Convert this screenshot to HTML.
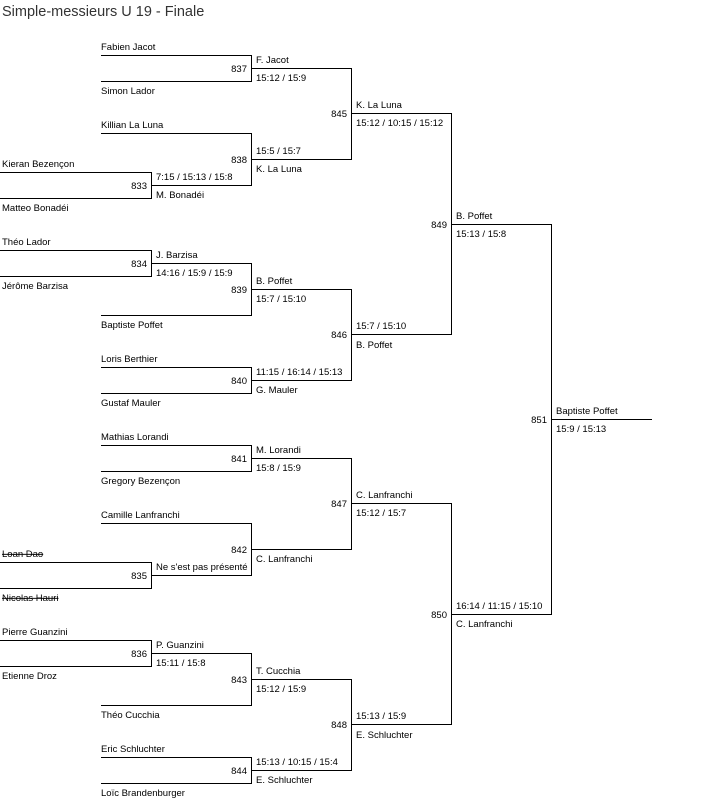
<!DOCTYPE html>
<html><head><meta charset="utf-8"><style>
html,body{margin:0;padding:0;background:#fff;}
svg{display:block}
text{font-family:"Liberation Sans",sans-serif;font-size:9.5px;fill:#000}
.n{text-anchor:end}
.s{text-decoration:line-through}
</style></head><body>
<svg width="702" height="804" xmlns="http://www.w3.org/2000/svg">
<text x="2" y="16" style="font-size:14.5px;fill:#333">Simple-messieurs U 19 - Finale</text>
<g fill="none" stroke="#000" stroke-width="1" shape-rendering="crispEdges">
<path d="M0 172.5H151.5V198.5H0"/>
<path d="M0 250.5H151.5V276.5H0"/>
<path d="M0 562.5H151.5V588.5H0"/>
<path d="M0 640.5H151.5V666.5H0"/>
<path d="M101 55.5H251.5V81.5H101"/>
<path d="M101 133.5H251.5V185.5H151"/>
<path d="M151 263.5H251.5V315.5H101"/>
<path d="M101 367.5H251.5V393.5H101"/>
<path d="M101 445.5H251.5V471.5H101"/>
<path d="M101 523.5H251.5V575.5H151"/>
<path d="M151 653.5H251.5V705.5H101"/>
<path d="M101 757.5H251.5V783.5H101"/>
<path d="M251 68.5H351.5V159.5H251"/>
<path d="M251 289.5H351.5V380.5H251"/>
<path d="M251 458.5H351.5V549.5H251"/>
<path d="M251 679.5H351.5V770.5H251"/>
<path d="M351 113.5H451.5V334.5H351"/>
<path d="M351 503.5H451.5V724.5H351"/>
<path d="M451 224.5H551.5V614.5H451"/>
<path d="M551 419.5H652"/>
</g>
<text x="2" y="167">Kieran Bezençon</text>
<text x="2" y="211">Matteo Bonadéi</text>
<text x="2" y="245">Théo Lador</text>
<text x="2" y="289">Jérôme Barzisa</text>
<text x="2" y="557" class="s">Loan Dao</text>
<text x="2" y="601" class="s">Nicolas Hauri</text>
<text x="2" y="635">Pierre Guanzini</text>
<text x="2" y="679">Etienne Droz</text>
<text x="101" y="50">Fabien Jacot</text>
<text x="101" y="94">Simon Lador</text>
<text x="101" y="128">Killian La Luna</text>
<text x="101" y="328">Baptiste Poffet</text>
<text x="101" y="362">Loris Berthier</text>
<text x="101" y="406">Gustaf Mauler</text>
<text x="101" y="440">Mathias Lorandi</text>
<text x="101" y="484">Gregory Bezençon</text>
<text x="101" y="518">Camille Lanfranchi</text>
<text x="101" y="718">Théo Cucchia</text>
<text x="101" y="752">Eric Schluchter</text>
<text x="101" y="796">Loïc Brandenburger</text>
<text class="n" x="147" y="189">833</text>
<text class="n" x="147" y="267">834</text>
<text class="n" x="147" y="579">835</text>
<text class="n" x="147" y="657">836</text>
<text class="n" x="247" y="72">837</text>
<text class="n" x="247" y="163">838</text>
<text class="n" x="247" y="293">839</text>
<text class="n" x="247" y="384">840</text>
<text class="n" x="247" y="462">841</text>
<text class="n" x="247" y="553">842</text>
<text class="n" x="247" y="683">843</text>
<text class="n" x="247" y="774">844</text>
<text class="n" x="347" y="117">845</text>
<text class="n" x="347" y="338">846</text>
<text class="n" x="347" y="507">847</text>
<text class="n" x="347" y="728">848</text>
<text class="n" x="447" y="228">849</text>
<text class="n" x="447" y="618">850</text>
<text class="n" x="547" y="423">851</text>
<text x="156" y="180">7:15 / 15:13 / 15:8</text>
<text x="156" y="198">M. Bonadéi</text>
<text x="156" y="258">J. Barzisa</text>
<text x="156" y="276">14:16 / 15:9 / 15:9</text>
<text x="156" y="570">Ne s'est pas présenté</text>
<text x="156" y="648">P. Guanzini</text>
<text x="156" y="666">15:11 / 15:8</text>
<text x="256" y="63">F. Jacot</text>
<text x="256" y="81">15:12 / 15:9</text>
<text x="256" y="154">15:5 / 15:7</text>
<text x="256" y="172">K. La Luna</text>
<text x="256" y="284">B. Poffet</text>
<text x="256" y="302">15:7 / 15:10</text>
<text x="256" y="375">11:15 / 16:14 / 15:13</text>
<text x="256" y="393">G. Mauler</text>
<text x="256" y="453">M. Lorandi</text>
<text x="256" y="471">15:8 / 15:9</text>
<text x="256" y="562">C. Lanfranchi</text>
<text x="256" y="674">T. Cucchia</text>
<text x="256" y="692">15:12 / 15:9</text>
<text x="256" y="765">15:13 / 10:15 / 15:4</text>
<text x="256" y="783">E. Schluchter</text>
<text x="356" y="108">K. La Luna</text>
<text x="356" y="126">15:12 / 10:15 / 15:12</text>
<text x="356" y="329">15:7 / 15:10</text>
<text x="356" y="348">B. Poffet</text>
<text x="356" y="498">C. Lanfranchi</text>
<text x="356" y="516">15:12 / 15:7</text>
<text x="356" y="719">15:13 / 15:9</text>
<text x="356" y="738">E. Schluchter</text>
<text x="456" y="219">B. Poffet</text>
<text x="456" y="237">15:13 / 15:8</text>
<text x="456" y="609">16:14 / 11:15 / 15:10</text>
<text x="456" y="627">C. Lanfranchi</text>
<text x="556" y="414">Baptiste Poffet</text>
<text x="556" y="432">15:9 / 15:13</text>
</svg>
</body></html>
